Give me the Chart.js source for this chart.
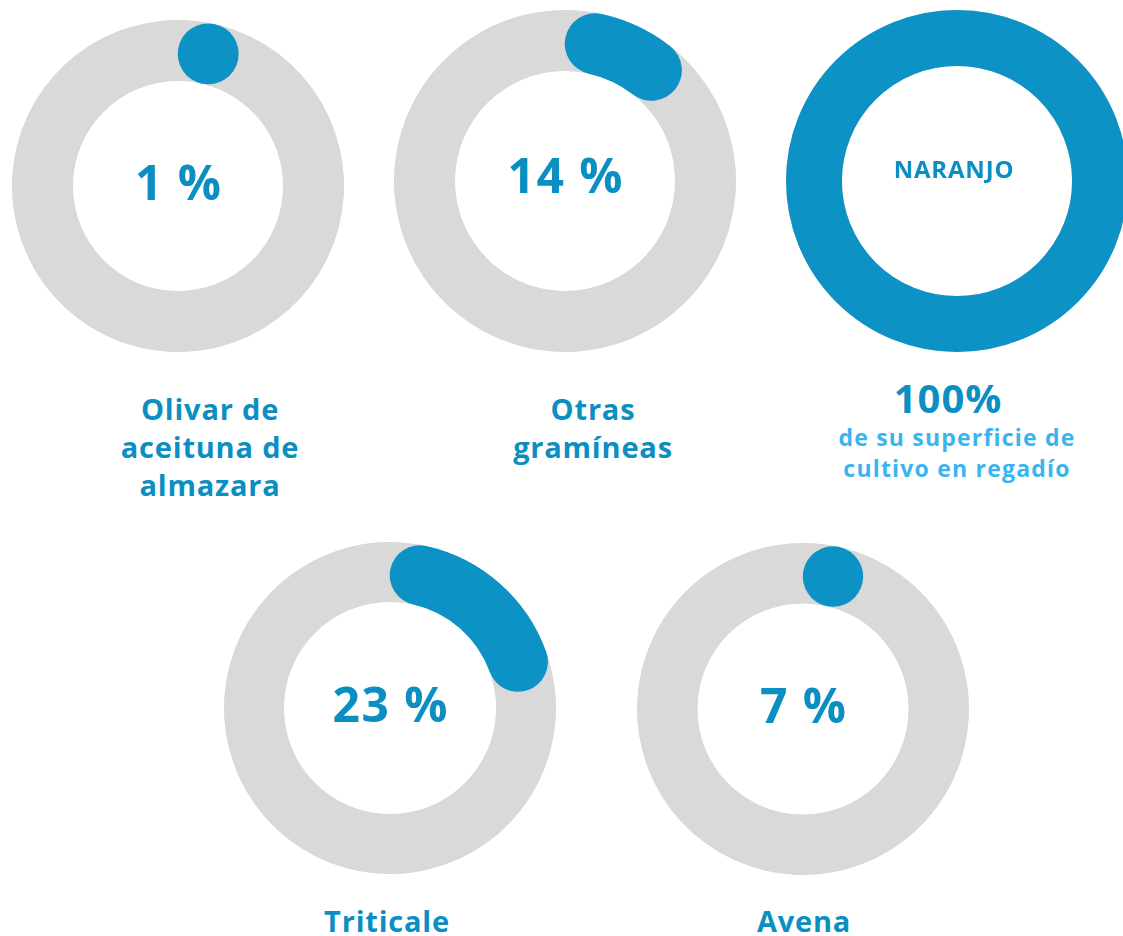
<!DOCTYPE html>
<html lang="es">
<head>
<meta charset="utf-8">
<title>Superficie de cultivo en regadío</title>
<script src="https://cdn.jsdelivr.net/npm/chart.js@4.4.1/dist/chart.umd.min.js"></script>
<style>
    html, body {
        margin: 0;
        padding: 0;
        width: 1123px;
        height: 936px;
        overflow: hidden;
        background: #ffffff;
        font-family: "Open Sans", "Noto Sans", sans-serif;
    }
    .donut {
        position: absolute;
    }
    .etiqueta {
        position: absolute;
        width: 340px;
        text-align: center;
        font-weight: 700;
        color: #0b8fc3;
        font-size: 29px;
        line-height: 38px;
        letter-spacing: 0.8px;
    }
    .etiqueta .grande {
        font-size: 40px;
        line-height: 48px;
        letter-spacing: 1px;
        display: block;
    }
    .etiqueta .sub {
        display: block;
        color: #3ab4f0;
        font-size: 23px;
        line-height: 31px;
        letter-spacing: 1.2px;
        padding-left: 18px;
    }
</style>
</head>
<body>
<div id="lienzo"></div>
<script>
// ===============================
// Datos
// ===============================
const cultivos = ["Olivar de aceituna de almazara", "Otras gramíneas", "Naranjo", "Triticale", "Avena"];
const porcentajes = [1, 14, 100, 23, 7];
const etiquetasCentro = ["1 %", "14 %", "NARANJO", "23 %", "7 %"];
const lineasEtiqueta = [
    ["Olivar de", "aceituna de", "almazara"],
    ["Otras", "gramíneas"],
    ["100%"],
    ["Triticale"],
    ["Avena"]
];
const subtituloNaranjo = ["de su superficie de", "cultivo en regadío"];

// ===============================
// Layout (centro, radio, cutout, etiqueta)
// ===============================
const disposicion = [
    { cx: 177.5, cy: 186, r: 166, cutout: "63.3%", lx: 210, ly: 390, font: 48, ls: 1.5 },
    { cx: 565,   cy: 181, r: 171, cutout: "64.3%", lx: 593, ly: 390, font: 48, ls: 1.5 },
    { cx: 957,   cy: 181, r: 171, cutout: "67.3%", lx: 948, ly: 374, font: 24, ls: 0.8 },
    { cx: 390,   cy: 708, r: 166, cutout: "63.9%", lx: 387, ly: 902, font: 48, ls: 1.5 },
    { cx: 802.5, cy: 708.5, r: 166, cutout: "63.6%", lx: 804, ly: 902, font: 48, ls: 1.5 }
];

const AZUL = "#0c92c5";
const GRIS = "#d9d9d9";
const AZUL_TEXTO = "#0b8fc3";

// ===============================
// Plugin: arco azul con extremos redondeados
// ===============================
const arcoRedondo = {
    id: "arcoRedondo",
    afterDatasetsDraw(chart) {
        const arc = chart.getDatasetMeta(0).data[0];
        if (!arc) return;
        const p = arc.getProps(["x", "y", "startAngle", "endAngle", "innerRadius", "outerRadius"], true);
        const medio = (p.innerRadius + p.outerRadius) / 2;
        const grosor = p.outerRadius - p.innerRadius;
        const ctx = chart.ctx;
        ctx.save();
        ctx.strokeStyle = AZUL;
        ctx.fillStyle = AZUL;
        ctx.lineWidth = grosor;
        if (p.endAngle - p.startAngle >= Math.PI * 2 - 1e-6) {
            ctx.beginPath();
            ctx.arc(p.x, p.y, medio, 0, Math.PI * 2);
            ctx.stroke();
        } else {
            const capAng = (grosor / 2) / medio;
            const a0 = p.startAngle + capAng;
            const a1 = Math.max(a0, p.endAngle - capAng);
            if (a1 - a0 < 1e-4) {
                ctx.beginPath();
                ctx.arc(p.x + Math.cos(a0) * medio, p.y + Math.sin(a0) * medio, grosor / 2, 0, Math.PI * 2);
                ctx.fill();
            } else {
                ctx.lineCap = "round";
                ctx.beginPath();
                ctx.arc(p.x, p.y, medio, a0, a1);
                ctx.stroke();
            }
        }
        ctx.restore();
    }
};

// ===============================
// Plugin: texto en el centro
// ===============================
const textoCentro = {
    id: "textoCentro",
    afterDraw(chart, args, opts) {
        const arc = chart.getDatasetMeta(0).data[0];
        if (!arc) return;
        const ctx = chart.ctx;
        ctx.save();
        ctx.fillStyle = AZUL_TEXTO;
        ctx.font = "700 " + opts.size + "px 'Open Sans', 'Noto Sans', sans-serif";
        if ("letterSpacing" in ctx) ctx.letterSpacing = opts.ls + "px";
        ctx.textAlign = "center";
        ctx.textBaseline = "middle";
        ctx.fillText(opts.texto, arc.x + (opts.dx || 0), arc.y + (opts.dy || 0));
        ctx.restore();
    }
};

// ===============================
// Construir donuts
// ===============================
const lienzo = document.getElementById("lienzo");

cultivos.forEach((cultivo, i) => {
    const d = disposicion[i];
    const size = d.r * 2;

    const caja = document.createElement("div");
    caja.className = "donut";
    caja.style.left = (d.cx - d.r) + "px";
    caja.style.top = (d.cy - d.r) + "px";
    caja.style.width = size + "px";
    caja.style.height = size + "px";

    const canvas = document.createElement("canvas");
    caja.appendChild(canvas);
    lienzo.appendChild(caja);

    const etiqueta = document.createElement("div");
    etiqueta.className = "etiqueta";
    etiqueta.style.left = (d.lx - 170) + "px";
    etiqueta.style.top = d.ly + "px";
    if (i === 2) {
        const g = document.createElement("span");
        g.className = "grande";
        g.textContent = lineasEtiqueta[i][0];
        etiqueta.appendChild(g);
        subtituloNaranjo.forEach(t => {
            const s = document.createElement("span");
            s.className = "sub";
            s.textContent = t;
            etiqueta.appendChild(s);
        });
    } else {
        etiqueta.innerHTML = lineasEtiqueta[i].join("<br>");
    }
    lienzo.appendChild(etiqueta);

    const valor = porcentajes[i];
    new Chart(canvas.getContext("2d"), {
        type: "doughnut",
        data: {
            labels: [cultivo, "Resto"],
            datasets: [{
                data: [valor, 100 - valor],
                backgroundColor: [GRIS, GRIS],
                borderColor: GRIS,
                borderWidth: 1,
                borderAlign: "inner"
            }]
        },
        options: {
            responsive: true,
            maintainAspectRatio: false,
            animation: false,
            cutout: d.cutout,
            layout: { padding: 0 },
            events: [],
            plugins: {
                legend: { display: false },
                tooltip: { enabled: false },
                textoCentro: {
                    texto: etiquetasCentro[i],
                    size: d.font,
                    ls: d.ls,
                    dx: i === 2 ? -3 : d.ls / 2,
                    dy: i === 2 ? -10 : (i === 1 ? -2 : 0)
                }
            }
        },
        plugins: [arcoRedondo, textoCentro]
    });
});
</script>
</body>
</html>
